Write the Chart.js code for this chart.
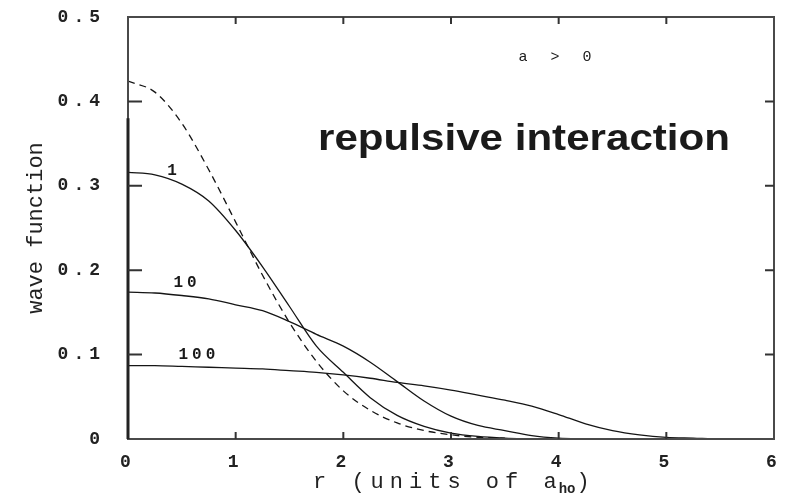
<!DOCTYPE html>
<html><head><meta charset="utf-8">
<script src="https://cdn.jsdelivr.net/npm/chart.js@4.4.1/dist/chart.umd.min.js"></script>
<style>html,body{margin:0;padding:0;background:#fff;}canvas{display:block;}</style>
</head><body>
<canvas id="c" width="785" height="503"></canvas>
<script>
// r values (units of a_ho)
const rValues = [0,0.25,0.5,0.75,1,1.25,1.5,1.75,2,2.25,2.5,2.75,3,3.25,3.5,3.75,4,4.25,4.5,4.75,5,5.25,5.5,5.75,6];
// non-interacting (a = 0), dashed
const waveA0 = [0.424,0.411,0.374,0.319,0.257,0.194,0.138,0.092,0.057,0.034,0.019,0.010,0.005,0.002,0.001,null,null,null,null,null,null,null,null,null,null];
// N a / a_ho = 1
const wave1 = [0.316,0.313,0.302,0.282,0.247,0.204,0.157,0.110,0.079,0.049,0.028,0.015,0.007,0.003,0.001,0.000,null,null,null,null,null,null,null,null,null];
// N a / a_ho = 10
const wave10 = [0.174,0.173,0.170,0.166,0.159,0.152,0.139,0.124,0.110,0.091,0.068,0.045,0.027,0.016,0.010,0.004,0.001,0.000,null,null,null,null,null,null,null];
// N a / a_ho = 100
const wave100 = [0.087,0.087,0.086,0.085,0.084,0.083,0.081,0.079,0.076,0.072,0.067,0.063,0.058,0.052,0.046,0.039,0.029,0.018,0.010,0.005,0.002,0.001,0.000,0.000,null];
const xTicks = [0,1,2,3,4,5,6];
const yTicks = [0,0.1,0.2,0.3,0.4,0.5];
const curveLabels = ['1','10','100'];

const pts = arr => rValues.map((r,i)=>({x:r,y:arr[i]}));
const lineDs = (label, arr, dash) => ({
  label, data: pts(arr), borderColor:'#151515', borderWidth:1.3, borderDash: dash||[],
  pointRadius:0, cubicInterpolationMode:'monotone', spanGaps:false, fill:false
});

const framePlugin = {
  id:'frame',
  afterUpdate(chart){
    ['x','y'].forEach(id=>{
      const s = chart.scales[id];
      if (s && !s._wrapped){
        const orig = s.drawLabels;
        s.drawLabels = function(area){
          const c=this.ctx; c.save(); c.letterSpacing='5px'; orig.call(this, area); c.restore();
        };
        s._wrapped = true;
      }
    });
  },
  afterDraw(chart){
    const {ctx, chartArea:a, scales:{x,y}} = chart;
    ctx.save();
    // frame
    ctx.strokeStyle='#4a4a4a'; ctx.lineWidth=2;
    ctx.strokeRect(a.left, a.top, a.right-a.left, a.bottom-a.top);
    ctx.strokeStyle='#222'; ctx.lineWidth=3;
    ctx.beginPath(); ctx.moveTo(a.left, y.getPixelForValue(0.38)); ctx.lineTo(a.left, a.bottom); ctx.stroke();
    // inward ticks
    ctx.strokeStyle='#333'; ctx.lineWidth=2;
    ctx.beginPath();
    yTicks.slice(1,-1).forEach(v=>{
      const py=y.getPixelForValue(v);
      ctx.moveTo(a.left,py); ctx.lineTo(a.left+14,py);
      ctx.moveTo(a.right,py); ctx.lineTo(a.right-9,py);
    });
    xTicks.slice(1,-1).forEach(v=>{
      const px=x.getPixelForValue(v);
      ctx.moveTo(px,a.bottom); ctx.lineTo(px,a.bottom-7);
      ctx.moveTo(px,a.top); ctx.lineTo(px,a.top+7);
    });
    ctx.stroke();
    // curve labels
    ctx.fillStyle='#1a1a1a';
    ctx.textAlign='center'; ctx.textBaseline='middle';
    ctx.font='bold 16px "Liberation Mono"'; ctx.letterSpacing='4px';
    const lp = [[0.41,0.318],[0.53,0.185],[0.64,0.099]];
    curveLabels.forEach((t,i)=>ctx.fillText(t, x.getPixelForValue(lp[i][0])+2, y.getPixelForValue(lp[i][1])));
    ctx.font='15px "Liberation Mono"'; ctx.letterSpacing='7px';
    ctx.fillText('a > 0', x.getPixelForValue(3.97)+3, y.getPixelForValue(0.4526));
    // headline
    ctx.letterSpacing='0px';
    ctx.textAlign='left'; ctx.textBaseline='alphabetic';
    ctx.font='bold 36px "Liberation Sans"';
    ctx.save();
    ctx.translate(x.getPixelForValue(1.765), y.getPixelForValue(0.3424));
    ctx.scale(1.17,1);
    ctx.fillText('repulsive interaction',0,0);
    ctx.restore();
    // x title with subscript
    const bx = 313, by = 488;
    ctx.fillStyle='#222';
    ctx.font='22px "Liberation Mono"'; ctx.letterSpacing='6px';
    const main='r (units of a';
    ctx.fillText(main,bx,by);
    let w = ctx.measureText(main).width - 4;
    ctx.font='bold 14px "Liberation Mono"'; ctx.letterSpacing='0px';
    ctx.fillText('ho',bx+w,by+5);
    w += ctx.measureText('ho').width + 1;
    ctx.font='22px "Liberation Mono"';
    ctx.fillText(')',bx+w,by);
    ctx.restore();
  }
};

new Chart(document.getElementById('c'), {
  type:'line',
  data:{ datasets:[ lineDs('a = 0', waveA0, [7,5]), lineDs('1', wave1), lineDs('10', wave10), lineDs('100', wave100) ] },
  options:{
    responsive:false, animation:false, devicePixelRatio:1,
    layout:{ padding:{ top:17, right:11, left:0, bottom:0 } },
    plugins:{ legend:{display:false}, tooltip:{enabled:false} },
    scales:{
      x:{ type:'linear', min:0, max:6,
        afterFit(s){ s.height = 64; s.paddingLeft = 0; s.paddingRight = 0; },
        afterBuildTicks(s){ s.ticks = xTicks.map(v=>({value:v})); },
        grid:{display:false}, border:{display:false},
        ticks:{ padding:5, color:'#222', font:{family:'Liberation Mono', size:18, weight:'bold'}, maxRotation:0, autoSkip:false,
          callback:v=>String(v) },
        title:{display:false}
      },
      y:{ type:'linear', min:0, max:0.5,
        afterFit(s){ s.width = 128; s.paddingTop = 0; s.paddingBottom = 0; },
        afterBuildTicks(s){ s.ticks = yTicks.map(v=>({value:v})); },
        grid:{display:false}, border:{display:false},
        ticks:{ padding:15, color:'#222', font:{family:'Liberation Mono', size:18, weight:'bold'}, autoSkip:false,
          callback:v=> v===0 ? '0' : Number(v).toFixed(1) },
        title:{ display:true, text:'wave function', color:'#222', font:{family:'Liberation Mono', size:22}, padding:{top:23, bottom:0} }
      }
    }
  },
  plugins:[framePlugin]
});
</script>
</body></html>
